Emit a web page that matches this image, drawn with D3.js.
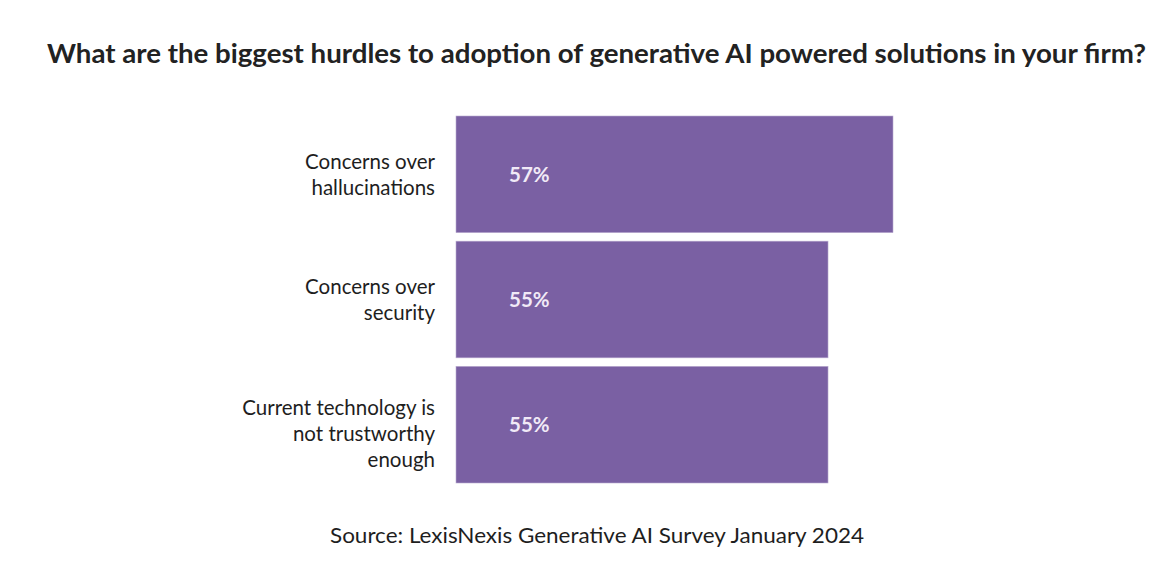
<!DOCTYPE html>
<html>
<head>
<meta charset="utf-8">
<script src="https://cdn.jsdelivr.net/npm/d3@7"></script>
<style>
  body { margin: 0; background: #fff; }
  svg { display: block; }
</style>
</head>
<body>
<div id="chart"></div>
<script>
// Survey data
const categories = [
  ["Concerns over", "hallucinations"],
  ["Concerns over", "security"],
  ["Current technology is", "not trustworthy", "enough"]
];
const values = [57, 55, 55];
const valueLabels = ["57%", "55%", "55%"];

const titleText = "What are the biggest hurdles to adoption of generative AI powered solutions in your firm?";
const sourceText = "Source: LexisNexis Generative AI Survey January 2024";

const width = 1172, height = 582;
const margin = { top: 116, left: 456, bottom: 99 };

const svg = d3.select("#chart").append("svg")
  .attr("width", width)
  .attr("height", height);

// Bars do not start at zero in the original graphic
const x = d3.scaleLinear()
  .domain([43.55, 57])
  .range([0, 437]);

const y = d3.scaleBand()
  .domain(d3.range(values.length))
  .range([margin.top, height - margin.bottom])
  .paddingInner(0.068)
  .paddingOuter(0);

svg.append("text")
  .attr("x", 47)
  .attr("y", 63)
  .attr("textLength", 1099)
  .attr("lengthAdjust", "spacingAndGlyphs")
  .style("font-family", "Lato, sans-serif")
  .style("font-weight", "bold")
  .style("font-size", "26px")
  .style("fill", "#222")
  .text(titleText);

const rows = svg.selectAll(".row")
  .data(values)
  .enter()
  .append("g")
  .attr("class", "row");

rows.append("rect")
  .attr("x", margin.left)
  .attr("y", (d, i) => y(i))
  .attr("width", d => x(d))
  .attr("height", y.bandwidth())
  .style("fill", "#7a60a3")
  .style("stroke", "#b9abd0")
  .style("stroke-width", 0.6);

rows.append("text")
  .attr("x", margin.left + 53)
  .attr("y", (d, i) => y(i) + y.bandwidth() / 2)
  .attr("dy", "0.36em")
  .style("font-family", "Lato, sans-serif")
  .style("font-weight", "bold")
  .style("font-size", "20.5px")
  .style("fill", "#f1eaf7")
  .text((d, i) => valueLabels[i]);

const lineH = 26;
rows.append("text")
  .attr("text-anchor", "end")
  .style("font-family", "Lato, sans-serif")
  .style("font-size", "20.5px")
  .style("fill", "#1e1e1e")
  .each(function(d, i) {
    const lines = categories[i];
    const cy = y(i) + y.bandwidth() / 2;
    // longer labels sit a little lower than centred, as in the original
    const startY = cy - (lines.length - 1) * lineH / 2 + (lines.length - 2) * 9;
    d3.select(this).selectAll("tspan")
      .data(lines)
      .enter()
      .append("tspan")
      .attr("x", 435)
      .attr("y", (l, j) => startY + j * lineH)
      .attr("dy", "0.36em")
      .text(l => l);
  });

svg.append("text")
  .attr("x", 330)
  .attr("y", 543)
  .attr("textLength", 534)
  .attr("lengthAdjust", "spacingAndGlyphs")
  .style("font-family", "Lato, sans-serif")
  .style("font-size", "22px")
  .style("fill", "#1e1e1e")
  .text(sourceText);
</script>
</body>
</html>
